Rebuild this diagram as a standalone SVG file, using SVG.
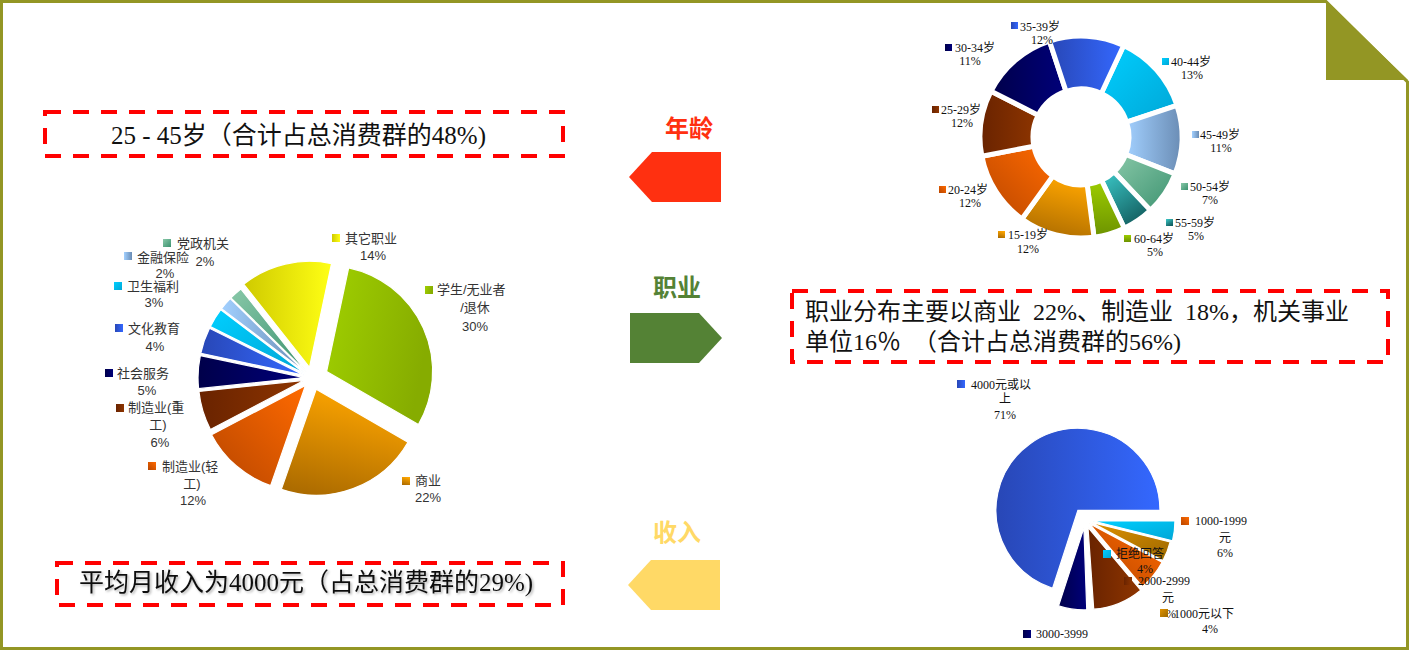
<svg xmlns="http://www.w3.org/2000/svg" width="1409" height="650" viewBox="0 0 1409 650">
<defs>
<linearGradient id="g-cyan" x1="0" y1="0" x2="1" y2="1"><stop offset="0" stop-color="#00CFFF"/><stop offset="1" stop-color="#00A6D6"/></linearGradient>
<linearGradient id="g-lblue" x1="0" y1="0" x2="1" y2="0"><stop offset="0" stop-color="#A2D0FF"/><stop offset="1" stop-color="#6A8CB4"/></linearGradient>
<linearGradient id="g-teal" x1="0" y1="0" x2="1" y2="1"><stop offset="0" stop-color="#88C8A8"/><stop offset="1" stop-color="#3C9270"/></linearGradient>
<linearGradient id="g-dteal" x1="0" y1="0" x2="0.6" y2="1"><stop offset="0" stop-color="#3CCACA"/><stop offset="1" stop-color="#135F60"/></linearGradient>
<linearGradient id="g-lime" x1="0" y1="0" x2="0" y2="1"><stop offset="0" stop-color="#9DCD00"/><stop offset="1" stop-color="#6C9200"/></linearGradient>
<linearGradient id="g-lime2" x1="0" y1="0" x2="1" y2="0.3"><stop offset="0" stop-color="#A0D000"/><stop offset="1" stop-color="#86AC00"/></linearGradient>
<linearGradient id="g-amber" x1="0.6" y1="0" x2="0.3" y2="1"><stop offset="0" stop-color="#FFA600"/><stop offset="1" stop-color="#AD6C00"/></linearGradient>
<linearGradient id="g-orange" x1="1" y1="0" x2="0" y2="1"><stop offset="0" stop-color="#FF6A00"/><stop offset="1" stop-color="#B84600"/></linearGradient>
<linearGradient id="g-brown" x1="0" y1="0" x2="1" y2="0"><stop offset="0" stop-color="#692300"/><stop offset="1" stop-color="#8E3500"/></linearGradient>
<linearGradient id="g-navy" x1="0" y1="0" x2="1" y2="0"><stop offset="0" stop-color="#00004A"/><stop offset="1" stop-color="#00007A"/></linearGradient>
<linearGradient id="g-blue" x1="0" y1="0" x2="1" y2="0"><stop offset="0" stop-color="#2847B6"/><stop offset="1" stop-color="#3468FF"/></linearGradient>
<linearGradient id="g-yellow" x1="0" y1="0" x2="1" y2="0"><stop offset="0" stop-color="#CFCA00"/><stop offset="1" stop-color="#FFFF14"/></linearGradient>
<linearGradient id="g-gold" x1="0" y1="0" x2="1" y2="1"><stop offset="0" stop-color="#E09200"/><stop offset="1" stop-color="#9C6800"/></linearGradient>
<filter id="sh" x="-5%" y="-30%" width="110%" height="160%"><feDropShadow dx="1.5" dy="1.5" stdDeviation="1" flood-color="#000" flood-opacity="0.3"/></filter>
</defs>
<style>
.box{fill:none;stroke:#FF0000;stroke-width:4;stroke-dasharray:16 12}
.bt{font-family:"Liberation Serif","Noto Sans CJK SC",serif;font-size:24px;fill:#111;white-space:pre}
.ttl{font-family:"Liberation Serif","Noto Sans CJK SC",serif;font-size:24px;font-weight:bold;text-anchor:middle}
.ls{font-family:"Liberation Sans","Noto Sans CJK SC",sans-serif;font-size:13px;fill:#333}
.lr{font-family:"Liberation Serif","Noto Sans CJK SC",serif;font-size:12px;fill:#111}
.m{text-anchor:middle}
.sl{stroke:#fff;stroke-width:1.2}
.seg{stroke:#fff;stroke-width:5}
</style>

<g id="frame">
<path d="M1.5,1.5 H1326 L1407.5,82 V648.5 H1.5 Z" fill="none" stroke="#939624" stroke-width="3"/>
<polygon points="1326,1 1326,80 1408,80" fill="#939624"/>
</g>

<g id="box-age">
<rect class="box" x="45" y="112" width="518" height="44"/>
<text class="bt" x="111" y="144" style="font-size:25px">25 - 45岁（合计占总消费群的48%)</text>
</g>

<g id="box-occupation">
<rect class="box" x="792" y="291" width="596" height="71"/>
<text class="bt" x="805" y="320">职业分布主要以商业  22%、制造业  18%，机关事业</text>
<text class="bt" x="805" y="350">单位16％  （合计占总消费群的56%)</text>
</g>

<g id="box-income">
<rect class="box" x="57" y="563" width="506" height="42"/>
<text class="bt" x="79" y="591" style="font-size:25px" filter="url(#sh)">平均月收入为4000元（占总消费群的29%)</text>
</g>

<g id="connectors">
<g id="arrow-age">
<text class="ttl" x="689" y="137" fill="#FF3010">年龄</text>
<polygon points="629,177 652,152 721,152 721,202 652,202" fill="#FF3010"/>
</g>
<g id="arrow-occupation">
<text class="ttl" x="677" y="296" fill="#548235">职业</text>
<polygon points="630,313 699,313 722,338 699,363 630,363" fill="#548235"/>
</g>
<g id="arrow-income">
<text class="ttl" x="677" y="541" fill="#FFD966">收入</text>
<polygon points="628,585 651,560 720,560 720,610 651,610" fill="#FFD966"/>
</g>
</g>

<g id="chart-age">
<path class="seg" fill="url(#g-cyan)" d="M1123.68,45.46 A101,101 0 0 1 1176.95,105.46 L1126.60,122.01 A48,48 0 0 0 1101.28,93.50 Z"/>
<path class="seg" fill="url(#g-lblue)" d="M1176.95,105.46 A101,101 0 0 1 1175.04,173.85 L1125.69,154.52 A48,48 0 0 0 1126.60,122.01 Z"/>
<path class="seg" fill="url(#g-teal)" d="M1175.04,173.85 A101,101 0 0 1 1150.40,210.39 L1113.98,171.88 A48,48 0 0 0 1125.69,154.52 Z"/>
<path class="seg" fill="url(#g-dteal)" d="M1150.40,210.39 A101,101 0 0 1 1124.32,228.23 L1101.59,180.36 A48,48 0 0 0 1113.98,171.88 Z"/>
<path class="seg" fill="url(#g-lime)" d="M1124.32,228.23 A101,101 0 0 1 1094.01,237.16 L1087.18,184.60 A48,48 0 0 0 1101.59,180.36 Z"/>
<path class="seg" fill="url(#g-amber)" d="M1094.01,237.16 A101,101 0 0 1 1021.91,218.92 L1052.92,175.93 A48,48 0 0 0 1087.18,184.60 Z"/>
<path class="seg" fill="url(#g-orange)" d="M1021.91,218.92 A101,101 0 0 1 981.86,156.27 L1033.88,146.16 A48,48 0 0 0 1052.92,175.93 Z"/>
<path class="seg" fill="url(#g-brown)" d="M981.86,156.27 A101,101 0 0 1 991.01,91.15 L1038.23,115.21 A48,48 0 0 0 1033.88,146.16 Z"/>
<path class="seg" fill="url(#g-navy)" d="M991.01,91.15 A101,101 0 0 1 1049.46,41.05 L1066.01,91.40 A48,48 0 0 0 1038.23,115.21 Z"/>
<path class="seg" fill="url(#g-blue)" d="M1049.46,41.05 A101,101 0 0 1 1123.68,45.46 L1101.28,93.50 A48,48 0 0 0 1066.01,91.40 Z"/>
<g class="lr">
<rect x="1011" y="22" width="7" height="7" fill="url(#g-blue)"/><text x="1020" y="31">35-39岁</text><text class="m" x="1042" y="44">12%</text>
<rect x="945" y="44" width="7" height="7" fill="url(#g-navy)"/><text x="955" y="52">30-34岁</text><text class="m" x="970" y="65">11%</text>
<rect x="1162" y="58" width="7" height="7" fill="url(#g-cyan)"/><text x="1171" y="66">40-44岁</text><text class="m" x="1192" y="79">13%</text>
<rect x="1192" y="131" width="7" height="7" fill="url(#g-lblue)"/><text x="1200" y="139">45-49岁</text><text class="m" x="1221" y="152">11%</text>
<rect x="1181" y="183" width="7" height="7" fill="url(#g-teal)"/><text x="1190" y="191">50-54岁</text><text class="m" x="1210" y="204">7%</text>
<rect x="1166" y="219" width="7" height="7" fill="url(#g-dteal)"/><text x="1175" y="227">55-59岁</text><text class="m" x="1196" y="240">5%</text>
<rect x="1124" y="235" width="7" height="7" fill="url(#g-lime)"/><text x="1134" y="243">60-64岁</text><text class="m" x="1155" y="256">5%</text>
<rect x="998" y="231" width="7" height="7" fill="url(#g-amber)"/><text x="1008" y="239">15-19岁</text><text class="m" x="1028" y="253">12%</text>
<rect x="939" y="186" width="7" height="7" fill="url(#g-orange)"/><text x="948" y="194">20-24岁</text><text class="m" x="970" y="207">12%</text>
<rect x="932" y="106" width="7" height="7" fill="url(#g-brown)"/><text x="941" y="114">25-29岁</text><text class="m" x="962" y="127">12%</text>
</g>
</g>

<g id="chart-occupation">
<path class="sl" fill="url(#g-lime2)" d="M326.62,371.49 L348.66,267.81 A106,106 0 0 1 418.42,424.49 Z"/>
<path class="sl" fill="url(#g-amber)" d="M316.18,389.25 L407.98,442.25 A106,106 0 0 1 281.32,489.36 Z"/>
<path class="sl" fill="url(#g-orange)" d="M305.47,385.57 L270.61,485.68 A106,106 0 0 1 211.53,434.68 Z"/>
<path class="sl" fill="url(#g-brown)" d="M304.34,380.31 L210.40,429.42 A106,106 0 0 1 198.92,391.39 Z"/>
<path class="sl" fill="url(#g-navy)" d="M304.01,377.58 L198.59,388.66 A106,106 0 0 1 200.33,355.54 Z"/>
<path class="sl" fill="url(#g-blue)" d="M304.44,375.37 L200.76,353.33 A106,106 0 0 1 209.50,328.24 Z"/>
<path class="sl" fill="url(#g-cyan)" d="M305.20,373.78 L210.26,326.65 A106,106 0 0 1 220.77,309.69 Z"/>
<path class="sl" fill="url(#g-lblue)" d="M305.94,372.77 L221.51,308.68 A106,106 0 0 1 230.20,298.60 Z"/>
<path class="sl" fill="url(#g-teal)" d="M306.65,372.06 L230.91,297.89 A106,106 0 0 1 240.81,288.99 Z"/>
<path class="sl" fill="url(#g-yellow)" d="M309.49,367.29 L243.65,284.22 A106,106 0 0 1 331.53,263.61 Z"/>
<g class="ls">
<rect x="332" y="234" width="8" height="8" fill="url(#g-yellow)"/><text x="345" y="243">其它职业</text><text class="m" x="373" y="260">14%</text>
<rect x="163" y="239" width="8" height="8" fill="url(#g-teal)"/><text x="177" y="248">党政机关</text><text class="m" x="205" y="266">2%</text>
<rect x="124" y="252" width="8" height="8" fill="url(#g-lblue)"/><text x="137" y="262">金融保险</text><text class="m" x="165" y="278">2%</text>
<rect x="114" y="282" width="8" height="8" fill="url(#g-cyan)"/><text x="127" y="291">卫生福利</text><text class="m" x="154" y="307">3%</text>
<rect x="115" y="324" width="8" height="8" fill="url(#g-blue)"/><text x="128" y="333">文化教育</text><text class="m" x="155" y="351">4%</text>
<rect x="105" y="369" width="8" height="8" fill="url(#g-navy)"/><text x="117" y="378">社会服务</text><text class="m" x="147" y="395">5%</text>
<rect x="116" y="404" width="8" height="8" fill="url(#g-brown)"/><text x="128" y="412">制造业(重</text><text class="m" x="158" y="429">工)</text><text class="m" x="160" y="447">6%</text>
<rect x="148" y="462" width="8" height="8" fill="url(#g-orange)"/><text x="162" y="471">制造业(轻</text><text class="m" x="192" y="488">工)</text><text class="m" x="193" y="505">12%</text>
<rect x="425" y="286" width="8" height="8" fill="url(#g-lime2)"/><text x="437" y="294">学生/无业者</text><text class="m" x="475" y="312">/退休</text><text class="m" x="475" y="331">30%</text>
<rect x="402" y="477" width="8" height="8" fill="url(#g-amber)"/><text x="415" y="485">商业</text><text class="m" x="428" y="502">22%</text>
</g>
</g>

<g id="chart-income">
<path class="sl" fill="url(#g-blue)" d="M1077.95,510.29 L1052.61,588.28 A82,82 0 1 1 1159.95,510.29 Z"/>
<path class="sl" fill="url(#g-cyan)" d="M1092.94,520.98 L1174.94,520.98 A82,82 0 0 1 1172.50,540.82 Z"/>
<path class="sl" fill="url(#g-gold)" d="M1090.60,522.15 L1170.16,541.99 A82,82 0 0 1 1163.00,560.65 Z"/>
<path class="sl" fill="url(#g-orange)" d="M1089.66,523.78 L1162.06,562.28 A82,82 0 0 1 1142.37,586.59 Z"/>
<path class="sl" fill="url(#g-brown)" d="M1088.00,527.42 L1140.71,590.23 A82,82 0 0 1 1093.72,609.22 Z"/>
<path class="sl" fill="url(#g-navy)" d="M1083.89,527.92 L1086.75,609.87 A82,82 0 0 1 1058.55,605.91 Z"/>
<g class="lr">
<rect x="957" y="380" width="8" height="8" fill="url(#g-blue)"/><text x="971" y="389">4000元或以</text><text class="m" x="1005" y="403">上</text><text class="m" x="1005" y="419">71%</text>
<rect x="1181" y="517" width="8" height="8" fill="url(#g-orange)"/><text x="1195" y="525">1000-1999</text><text class="m" x="1225" y="542">元</text><text class="m" x="1225" y="557">6%</text>
<rect x="1103" y="550" width="8" height="8" fill="url(#g-cyan)"/><text x="1116" y="558">拒绝回答</text><text class="m" x="1145" y="573">4%</text>
<rect x="1124" y="577" width="8" height="8" fill="url(#g-brown)"/><text x="1138" y="585">2000-2999</text><text class="m" x="1168" y="602">元</text><text x="1166" y="618">%</text>
<rect x="1160" y="609" width="8" height="8" fill="url(#g-gold)"/><text x="1174" y="618">1000元以下</text><text class="m" x="1210" y="633">4%</text>
<rect x="1023" y="630" width="8" height="8" fill="url(#g-navy)"/><text x="1036" y="638">3000-3999</text>
</g>
</g>
</svg>
